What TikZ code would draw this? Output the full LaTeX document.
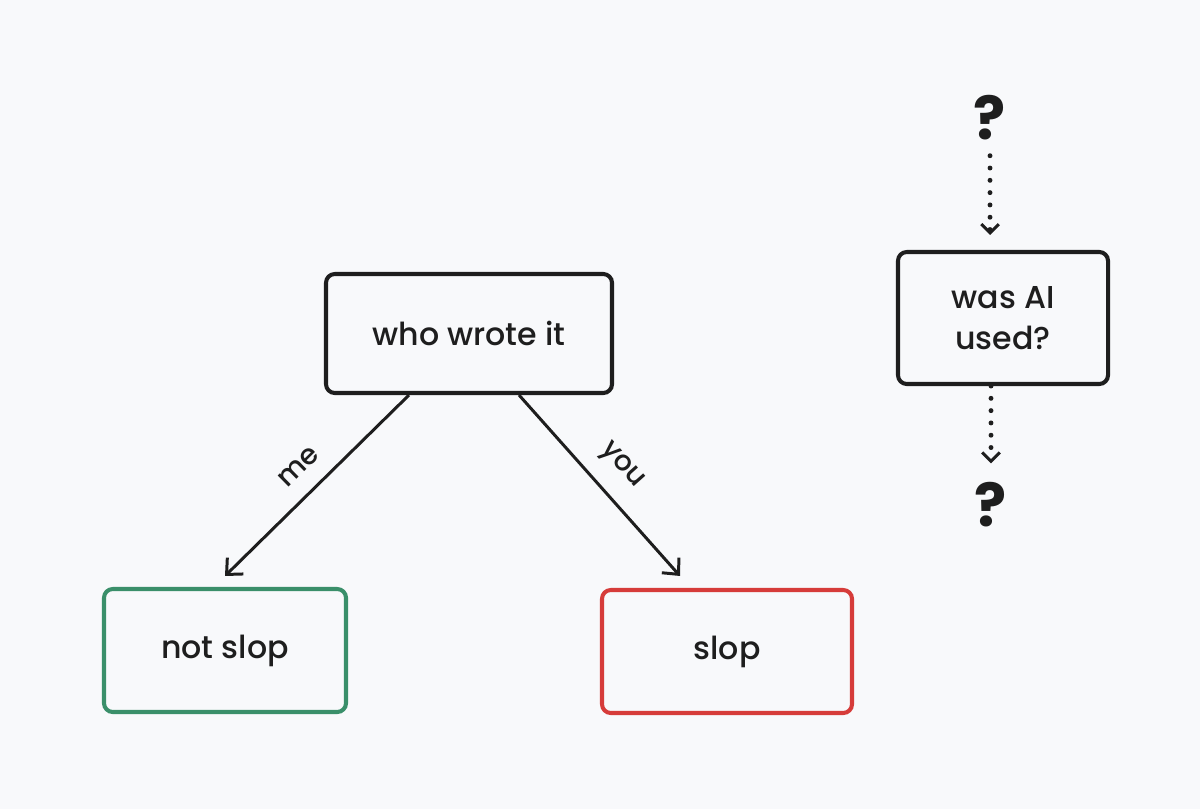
\documentclass[tikz,border=0pt]{standalone}
\usepackage{fontspec}
\setmainfont{Poppins}[UprightFont=* Medium, BoldFont=* Bold]
\usetikzlibrary{arrows.meta}
\definecolor{ink}{HTML}{1E1E1E}
\definecolor{paper}{HTML}{F8F9FB}
\definecolor{okgreen}{HTML}{3A8F6A}
\definecolor{badred}{HTML}{D63C3A}
\tikzset{
    box/.style={draw=ink, line width=2.3pt, rounded corners=5pt,
        minimum width=#1, minimum height=2.4cm, text=ink,
        font=\fontsize{18}{23}\selectfont, align=center},
    arr/.style={draw=ink, line width=1.7pt, -{Straight Barb[length=7pt,width=13pt,line width=1.7pt]}},
    dotarr/.style={draw=ink, line width=2.8pt, line cap=round, dash pattern=on 0pt off 7pt,
        -{Straight Barb[length=5pt,width=10pt,line width=1.7pt]}},
    quest/.style={text=ink, inner sep=0pt, font=\fontsize{34}{34}\selectfont\bfseries},
    lbl/.style={text=ink, font=\fontsize{16}{16}\selectfont},
}

\begin{document}
\begin{tikzpicture}
    \fill[paper] (0,0) rectangle (24,16.18);
    \useasboundingbox (0,0) rectangle (24,16.18);

    % decision tree
    \node[box=5.72cm, minimum height=2.38cm] (who) at (9.38,9.51) {who wrote it};
    \node[box=4.84cm, draw=okgreen, minimum height=2.46cm] (notslop) at (4.5,3.17) {not slop};
    \node[box=5.0cm, draw=badred, minimum height=2.46cm] (slop) at (14.54,3.15) {slop};

    \draw[arr] ([xshift=-1.2cm]who.south) -- ([yshift=0.22cm]notslop.north)
        node[midway, sloped, above=6pt, lbl] {me};
    \draw[arr] ([xshift=1.0cm]who.south) -- ([xshift=-0.94cm, yshift=0.24cm]slop.north)
        node[midway, sloped, above=6pt, lbl] {you};

    % the open question
    \node[box=4.2cm, minimum height=2.64cm] (ai) at (20.06,9.82) {was AI\\used?};
    \node[quest] (q1) at (19.8,13.82) {?};
    \node[quest] (q2) at (19.82,6.08) {?};
    \coordinate (aitop) at ([yshift=0.3cm]ai.north);
    \coordinate (qtop) at ([yshift=0.38cm]q2.north);
    \draw[dotarr] ([yshift=-0.3cm]q1.south) -- (q1.south |- aitop);
    \draw[dotarr] (ai.south -| q2.north) -- (qtop);
\end{tikzpicture}
\end{document}
